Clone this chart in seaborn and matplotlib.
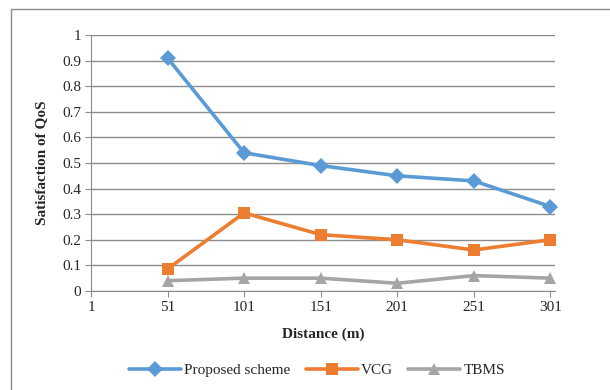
import numpy as np
import pandas as pd
import seaborn as sns
import matplotlib.pyplot as plt
from matplotlib.patches import Rectangle

distance = [51, 101, 151, 201, 251, 301]
proposed = [0.91, 0.54, 0.49, 0.45, 0.43, 0.33]
vcg = [0.086, 0.305, 0.22, 0.20, 0.16, 0.20]
tbms = [0.04, 0.05, 0.05, 0.03, 0.06, 0.05]
series_names = ['Proposed scheme', 'VCG', 'TBMS']
x_ticks = [1, 51, 101, 151, 201, 251, 301]

df = pd.DataFrame({
    'Distance (m)': distance * 3,
    'Satisfaction of QoS': proposed + vcg + tbms,
    'Scheme': np.repeat(series_names, len(distance)),
})

sns.set_style('white')
plt.rcParams['font.family'] = ['Liberation Serif', 'DejaVu Serif']

colors = {'Proposed scheme': '#5B9BD5', 'VCG': '#ED7D31', 'TBMS': '#A5A5A5'}
markers = {'Proposed scheme': 'D', 'VCG': 's', 'TBMS': '^'}

fig = plt.figure(figsize=(6.1, 3.9), dpi=100)
ax = fig.add_axes([91 / 610, 0.254, 464 / 610, 0.656])

sns.lineplot(ax=ax, data=df, x='Distance (m)', y='Satisfaction of QoS',
             hue='Scheme', style='Scheme', palette=colors, markers=markers,
             dashes=False, linewidth=2.6, markersize=8, markeredgewidth=0,
             clip_on=False)

ax.set_xlim(1, 304)
ax.set_ylim(0, 1)
ax.set_xticks(x_ticks)
ax.set_yticks(np.arange(0, 1.01, 0.1))
ax.set_yticklabels(['0'] + ['%.1f' % v for v in np.arange(0.1, 0.95, 0.1)] + ['1'])
ax.grid(axis='y', color='#8C8C8C', linewidth=1)
ax.set_axisbelow(True)
for s in ['top', 'right']:
    ax.spines[s].set_visible(False)
for s in ['left', 'bottom']:
    ax.spines[s].set_color('#8C8C8C')
ax.tick_params(axis='both', labelsize=11, length=4, color='#8C8C8C',
               direction='out', left=True, bottom=True, pad=3)
ax.set_xlabel('Distance (m)', fontsize=11, fontweight='bold', labelpad=10)
ax.set_ylabel('Satisfaction of QoS', fontsize=11, fontweight='bold', labelpad=10)

handles, labels = ax.get_legend_handles_labels()
ax.legend(handles, labels, loc='center', bbox_to_anchor=(0.52, 0.051),
          bbox_transform=fig.transFigure, ncol=3, frameon=False,
          fontsize=11, handlelength=3.4, columnspacing=1.0, handletextpad=0.2)

fig.patches.append(Rectangle((11 / 610, -0.1), 1.2, 1 - 9 / 390 + 0.1,
                             transform=fig.transFigure, fill=False,
                             edgecolor='#8C8C8C', linewidth=1))

fig.savefig('out.png', dpi=100)
